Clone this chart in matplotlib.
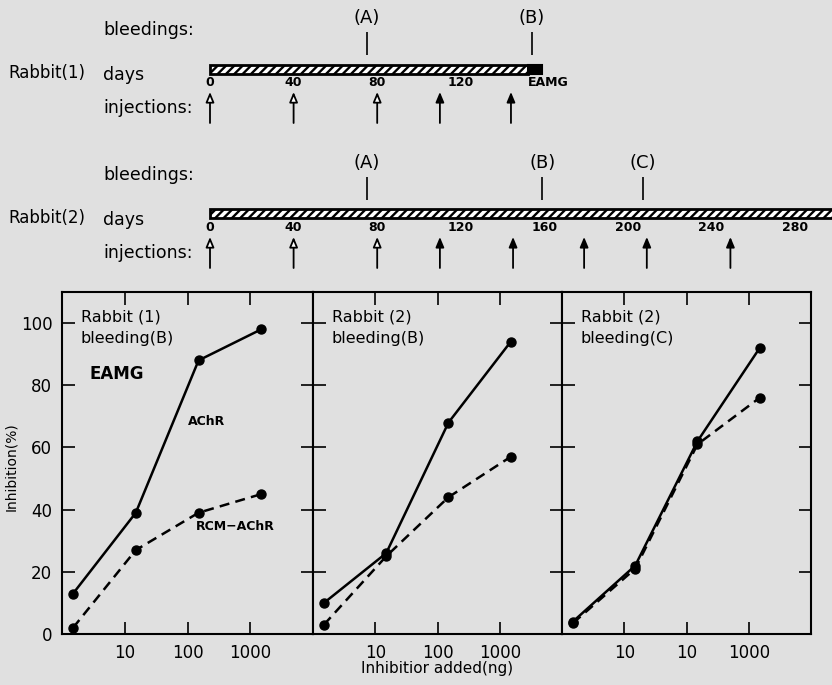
import matplotlib.pyplot as plt
from matplotlib.ticker import NullLocator
from matplotlib.transforms import blended_transform_factory

plt.rcParams['font.family'] = 'DejaVu Sans'
plt.rcParams['hatch.linewidth'] = 1.7

BG = '#e0e0e0'
W, H = 832, 685

# schedule (days)
r1_day_ticks = [0, 40, 80, 120]
r1_hatch_end = 152
r1_eamg_end = 159
r1_bleed_days = [75, 154]
r1_bleed_names = ['(A)', '(B)']
r1_open_inj = [0, 40, 80]
r1_solid_inj = [110, 144]

r2_day_ticks = [0, 40, 80, 120, 160, 200, 240, 280]
r2_end = 300
r2_bleed_days = [75, 159, 207]
r2_bleed_names = ['(A)', '(B)', '(C)']
r2_open_inj = [0, 40, 80]
r2_solid_inj = [110, 145, 179, 209, 249]

# inhibition data (ng added vs % inhibition)
dose = [1.5, 15, 150, 1500]
achr_r1b = [13, 39, 88, 98]
rcm_r1b = [2, 27, 39, 45]
achr_r2b = [10, 26, 68, 94]
rcm_r2b = [3, 25, 44, 57]
achr_r2c = [4, 22, 62, 92]
rcm_r2c = [3.5, 21, 61, 76]

fig = plt.figure(figsize=(W / 100, H / 100), dpi=100, facecolor=BG)


def px_axes(x0, y0, x1, y1):
    return fig.add_axes([x0 / W, 1 - y1 / H, (x1 - x0) / W, (y1 - y0) / H])


# ---------------- schedule on top ----------------
tl = px_axes(0, 0, W, 290)
tl.set_xlim(-210 / 2.09, (W - 210) / 2.09)
tl.set_ylim(290, 0)
tl.set_axis_off()
trans = blended_transform_factory(fig.transFigure, tl.transData)


def schedule(base, name, day_ticks, bars, bleed_days, bleed_names, open_inj, solid_inj):
    # base is the row of the bleedings label
    tl.text(8 / W, base + 43, name, transform=trans, fontsize=12, va='center')
    tl.text(103 / W, base, 'bleedings:', transform=trans, fontsize=12.5, va='center')
    tl.text(103 / W, base + 45, 'days', transform=trans, fontsize=12.5, va='center')
    tl.text(103 / W, base + 78, 'injections:', transform=trans, fontsize=12.5, va='center')
    for left, width, fill in bars:
        if fill:
            tl.barh(base + 39, width, left=left, height=9, color='black', edgecolor='black', lw=1.5)
        else:
            tl.barh(base + 39, width, left=left, height=9, color='white', edgecolor='black',
                    hatch='////', lw=2)
    for d in day_ticks:
        tl.text(d, base + 53, str(d), ha='center', va='center', fontsize=9, fontweight='bold')
    tl.vlines(bleed_days, base + 2, base + 25, color='black', lw=1.2)
    for d, s in zip(bleed_days, bleed_names):
        tl.text(d, base - 12, s, ha='center', va='center', fontsize=13)
    for days, fc in ((open_inj, 'white'), (solid_inj, 'black')):
        for d in days:
            tl.annotate('', xy=(d, base + 62), xytext=(d, base + 93),
                        arrowprops=dict(arrowstyle='-|>,head_width=0.25,head_length=0.6',
                                        lw=1.3, fc=fc, ec='black', shrinkA=0, shrinkB=0))


schedule(30, 'Rabbit(1)', r1_day_ticks,
         [(0, r1_hatch_end, False), (r1_hatch_end, r1_eamg_end - r1_hatch_end, True)],
         r1_bleed_days, r1_bleed_names, r1_open_inj, r1_solid_inj)
tl.text(r1_hatch_end, 83, 'EAMG', ha='left', va='center', fontsize=9, fontweight='bold')

schedule(175, 'Rabbit(2)', r2_day_ticks, [(0, r2_end, False)],
         r2_bleed_days, r2_bleed_names, r2_open_inj, r2_solid_inj)

# ---------------- inhibition panels ----------------
p1 = px_axes(62, 292, 313, 634)
p2 = px_axes(313, 292, 562, 634)
p3 = px_axes(562, 292, 811, 634)

panels = [
    (p1, achr_r1b, rcm_r1b, 'Rabbit (1)\nbleeding(B)', ['10', '100', '1000']),
    (p2, achr_r2b, rcm_r2b, 'Rabbit (2)\nbleeding(B)', ['10', '100', '1000']),
    (p3, achr_r2c, rcm_r2c, 'Rabbit (2)\nbleeding(C)', ['10', '10', '1000']),
]
for i, (ax, achr, rcm, title, xlabels) in enumerate(panels):
    ax.set_facecolor(BG)
    ax.plot(dose, achr, color='black', lw=1.8, marker='o', ms=6.5)
    ax.plot(dose, rcm, color='black', lw=1.8, marker='o', ms=6.5, dashes=(4, 2.5))
    ax.set_xscale('log')
    ax.set_xlim(1, 10000)
    ax.set_ylim(0, 110)
    ax.set_xticks([10, 100, 1000])
    ax.set_xticklabels(xlabels)
    ax.xaxis.set_minor_locator(NullLocator())
    ax.set_yticks([0, 20, 40, 60, 80, 100])
    ax.tick_params(direction='in', length=9, width=1.2, top=True, right=True,
                   labelsize=12, pad=7, labelleft=(i == 0))
    for sp in ax.spines.values():
        sp.set_linewidth(1.5)
    ax.text(0.075, 0.95, title, transform=ax.transAxes, fontsize=11.5,
            va='top', ha='left', linespacing=1.55)

p1.text(0.11, 0.76, 'EAMG', transform=p1.transAxes, fontsize=12, fontweight='bold', va='center')
p1.text(0.575, 0.62, 'AChR', transform=p1.transAxes, fontsize=9, fontweight='bold',
        ha='center', va='center')
p1.text(0.69, 0.313, 'RCM\u2212AChR', transform=p1.transAxes, fontsize=9, fontweight='bold',
        ha='center', va='center')
p1.set_ylabel('Inhibition(%)', fontsize=10)
p1.yaxis.set_label_coords(-0.175, 0.49)

fig.text(437 / W, 1 - 668 / H, 'Inhibitior added(ng)', ha='center', va='center', fontsize=11)

fig.savefig('out.png', dpi=100, facecolor=BG)
